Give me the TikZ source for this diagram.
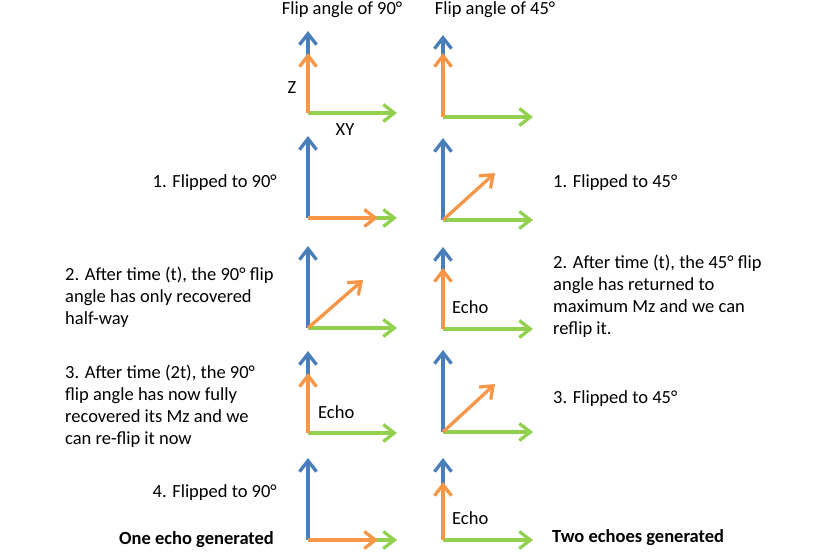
\documentclass[tikz,border=0pt]{standalone}
\usepackage{fontspec}
\setmainfont{Carlito}
\usetikzlibrary{arrows.meta}
\definecolor{zblue}{RGB}{74,126,187}
\definecolor{mzorange}{RGB}{247,150,70}
\definecolor{xygreen}{RGB}{146,208,80}

\begin{document}
\begin{tikzpicture}[x=1pt,y=-1pt,
    vec/.style={line width=3.3pt,-{Straight Barb[length=11pt,width=17pt]}},
    zaxis/.style={vec,zblue},
    xyaxis/.style={vec,xygreen},
    mvec/.style={vec,mzorange},
    txt/.style={inner sep=0pt,font=\fontsize{18.5}{22}\selectfont,align=left},
    head/.style={inner sep=0pt,font=\fontsize{18.5}{22}\selectfont}]
    \fill[white] (0,0) rectangle (830,552);
    \useasboundingbox (0,0) rectangle (830,552);
    % axes of both columns
    \foreach \y [count=\i] in {113,218,328,433,540} {
        \coordinate (L\i) at (308,\y);
        \draw[zaxis] (L\i) -- ++(0,-82);
        \draw[xyaxis] (L\i) -- ++(89,0);
    }
    \foreach \y [count=\i] in {117,220,329,432,540} {
        \coordinate (R\i) at (443,\y);
        \draw[zaxis] (R\i) -- ++(0,-82);
        \draw[xyaxis] (R\i) -- ++(90,0);
    }
    % magnetisation
    \draw[mvec] (L1) -- ++(0,-60);
    \draw[mvec] (L2) -- ++(70,0);
    \draw[mvec] (L3) -- ++(55,-48);
    \draw[mvec] (L4) -- ++(0,-60);
    \draw[mvec] (L5) -- ++(70,0);
    \draw[mvec] (R1) -- ++(0,-64);
    \draw[mvec] (R2) -- ++(52,-47);
    \draw[mvec] (R3) -- ++(0,-61);
    \draw[mvec] (R4) -- ++(52,-48);
    \draw[mvec] (R5) -- ++(0,-58);
    % labels
    \node[head] (t90) at (342,10) {Flip angle of 90°};
    \node[head] (t45) at (495,10) {Flip angle of 45°};
    \node[txt] (zl) at (292,88) {Z};
    \node[txt] (xyl) at (345,130) {XY};
    \node[txt,anchor=east] (s1l) at (277,183) {1. Flipped to 90°};
    \node[txt,anchor=west] (s1r) at (553,183) {1. Flipped to 45°};
    \node[txt,anchor=west] (s2l) at (65,297) {2. After time (t), the 90° flip\\angle has only recovered\\half-way};
    \node[txt,anchor=west] (s2r) at (553,296) {2. After time (t), the 45° flip\\angle has returned to\\maximum Mz and we can\\reflip it.};
    \node[txt,anchor=west] (s3l) at (65,406) {3. After time (2t), the 90°\\flip angle has now fully\\recovered its Mz and we\\can re-flip it now};
    \node[txt,anchor=west] (s3r) at (553,399) {3. Flipped to 45°};
    \node[txt,anchor=east] (s4l) at (277,493) {4. Flipped to 90°};
    \node[txt,anchor=west] (e3r) at (452,307) {Echo};
    \node[txt,anchor=west] (e4l) at (318,412) {Echo};
    \node[txt,anchor=west] (e5r) at (452,518) {Echo};
    \node[txt,anchor=west,font=\fontsize{18.5}{22}\selectfont\bfseries] (one) at (119,540) {One echo generated};
    \node[txt,anchor=west,font=\fontsize{18.5}{22}\selectfont\bfseries] (two) at (552,538) {Two echoes generated};
\end{tikzpicture}
\end{document}
